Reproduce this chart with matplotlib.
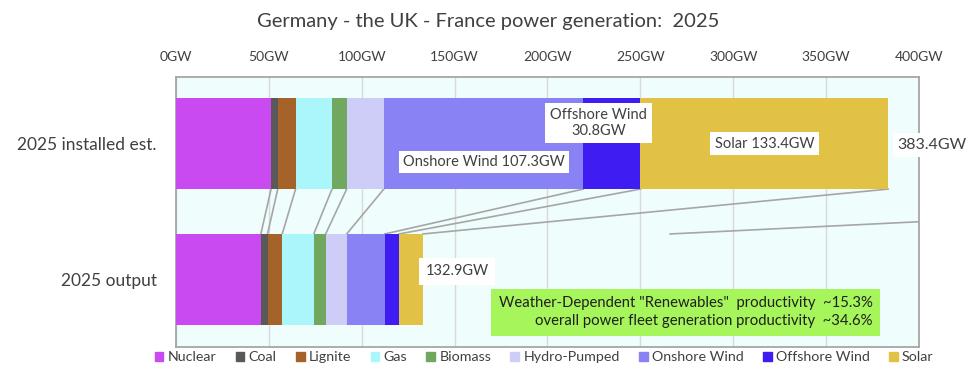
import numpy as np
import matplotlib
matplotlib.use("Agg")
import matplotlib.pyplot as plt

plt.rcParams["font.family"] = ["Lato", "DejaVu Sans"]

# data
sources = ["Nuclear", "Coal", "Lignite", "Gas", "Biomass", "Hydro-Pumped",
           "Onshore Wind", "Offshore Wind", "Solar"]
colors = ["#c84af0", "#595959", "#a5632a", "#aaf6fb", "#70a860", "#cdcdf8",
          "#8882f5", "#3f1cf2", "#e2c245"]
rows = ["2025 installed est.", "2025 output"]
installed = [51.2, 3.6, 9.6, 19.6, 7.9, 20.0, 107.3, 30.8, 133.4]
output = [45.7, 3.6, 7.9, 17.0, 6.4, 11.3, 20.5, 7.7, 12.8]
installed_total = 383.4
output_total = 132.9
xticks = [0, 50, 100, 150, 200, 250, 300, 350, 400]

txt = "#404040"
bar_h = 0.67

fig = plt.figure(figsize=(9.77, 3.89), dpi=100)
ax = fig.add_axes([0.1801, 0.1087, 0.7605, 0.6933])
ax.set_facecolor("#f0fdfd")

ys = [0, 1]
for vals, y in zip([installed, output], ys):
    left = np.concatenate([[0], np.cumsum(vals)[:-1]])
    ax.barh(y, vals, left=left, height=bar_h, color=colors, zorder=3)

# connecting lines between segment edges
top_edges = np.cumsum(installed)
bot_edges = np.cumsum(output)
for a, b in zip(top_edges, bot_edges):
    ax.plot([a, b], [0 + bar_h / 2, 1 - bar_h / 2], color="#a6a6a6", lw=1.2, zorder=2)
ax.plot([266, 400], [0.665, 0.575], color="#a6a6a6", lw=1.2, zorder=2)

box = dict(boxstyle="square,pad=0.3", fc="white", ec="none")
ax.text(165.8, 0.136, "Onshore Wind 107.3GW", ha="center", va="center",
        fontsize=10.5, color=txt, bbox=box, zorder=5)
ax.text(227.7, -0.15, "Offshore Wind\n30.8GW", ha="center", va="center",
        fontsize=10.5, color=txt, bbox=dict(boxstyle="square,pad=0.35", fc="white", ec="none"),
        zorder=5, linespacing=1.15)
ax.text(316.8, 0.0, "Solar 133.4GW", ha="center", va="center",
        fontsize=10.5, color=txt, bbox=box, zorder=5)
ax.text(388.5, 0.01, f"{installed_total}GW", ha="left", va="center",
        fontsize=11.5, color=txt, bbox=box, zorder=5, clip_on=False)
ax.text(134.5, 0.94, f"{output_total}GW", ha="left", va="center",
        fontsize=10.5, color=txt, bbox=dict(boxstyle="square,pad=0.45", fc="white", ec="none"),
        zorder=5)
ax.text(375, 1.24, 'Weather-Dependent "Renewables"  productivity  ~15.3%\n'
        'overall power fleet generation productivity  ~34.6%',
        ha="right", va="center", fontsize=10.7, color="#202020", linespacing=1.35,
        bbox=dict(boxstyle="square,pad=0.5", fc="#a6f55a", ec="none"), zorder=5)

ax.set_xlim(0, 400)
ax.set_ylim(1.494, -0.489)
ax.set_xticks(xticks)
ax.set_xticklabels([f"{t}GW" for t in xticks], fontsize=10, color=txt)
ax.xaxis.tick_top()
ax.tick_params(axis="x", length=0, pad=10)
ax.set_yticks(ys)
ax.set_yticklabels(rows, fontsize=12.5, color=txt)
ax.tick_params(axis="y", length=0, pad=14)
ax.grid(axis="x", color="#d9d9d9", lw=1, zorder=0)
for s in ax.spines.values():
    s.set_color("#a6a6a6")
    s.set_linewidth(1.3)

fig.text(0.5, 0.945, "Germany - the UK - France power generation:  2025",
         ha="center", va="center", fontsize=14.5, color=txt)

handles = [plt.Rectangle((0, 0), 1, 1, color=c) for c in colors]
fig.legend(handles, sources, loc="center", bbox_to_anchor=(0.557, 0.082), ncol=9,
           frameon=False, fontsize=10.3, handlelength=0.6, handleheight=0.6,
           handletextpad=0.3, columnspacing=1.35, labelcolor=txt)

fig.savefig("out.png", dpi=100)
